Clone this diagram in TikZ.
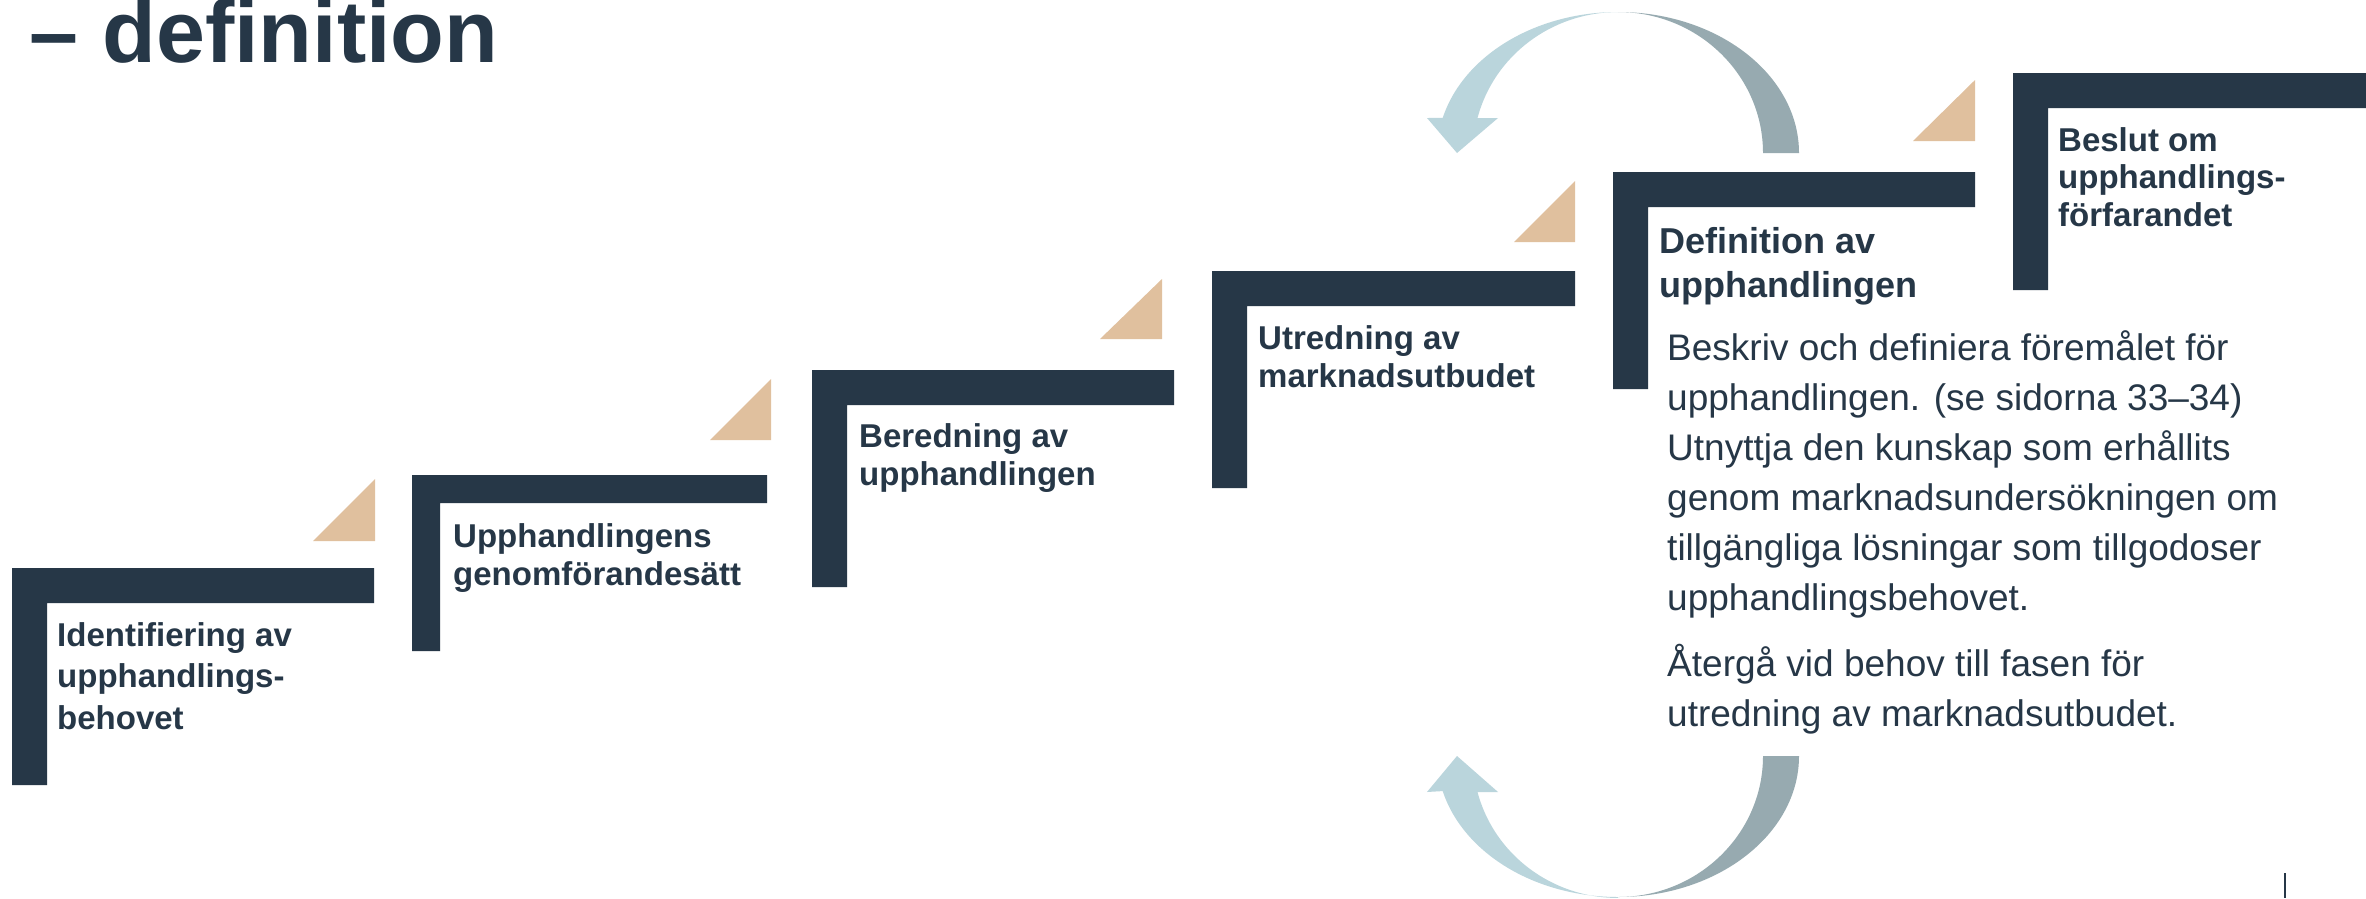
\documentclass[tikz,border=0pt]{standalone}
\usepackage{fontspec}
\setmainfont{Liberation Sans}
\definecolor{navy}{HTML}{263747}
\definecolor{wedgetan}{HTML}{E0C09E}
\definecolor{arrowlight}{HTML}{BAD5DC}
\definecolor{arrowdark}{HTML}{97AAB0}
\newcommand\stepshape[5]{%
  \fill[navy] (#1,#2) -- (#3,#2) -- (#3,#2+#5) -- (#1+#5,#2+#5) -- (#1+#5,#4) -- (#1,#4) -- cycle;}
\newcommand\wedgeshape[4]{%
  \fill[wedgetan] (#1,#4) -- (#3,#4) -- (#3,#2) -- cycle;}
\begin{document}
\begin{tikzpicture}[x=1pt,y=-1pt,
  lbl/.style={anchor=base west, inner sep=0pt, align=left, text=navy,
    font=\bfseries\fontsize{33}{38}\selectfont},
  body/.style={anchor=base west, inner sep=0pt, align=left, text=navy,
    font=\fontsize{37}{50}\selectfont},
  titletext/.style={anchor=base west, inner sep=0pt, text=navy,
    font=\bfseries\fontsize{88}{100}\selectfont}]
\useasboundingbox (0,0) rectangle (2366,898);
\clip (0,0) rectangle (2366,898);
\fill[white] (0,0) rectangle (2366,898);

% title
\node[titletext] (title) at (29,62) {– definition};

% steps
\stepshape{12}{568}{374}{785}{35}
\stepshape{412}{475}{767}{651}{28}
\stepshape{812}{370}{1174}{587}{35}
\stepshape{1212}{271}{1575}{488}{35}
\stepshape{1613}{172}{1975}{389}{35}
\stepshape{2013}{73}{2400}{290}{35}

% wedges
\wedgeshape{313}{479}{375}{541}
\wedgeshape{710}{379}{771}{440}
\wedgeshape{1100}{279}{1162}{339}
\wedgeshape{1514}{181}{1575}{242}
\wedgeshape{1913}{80}{1975}{141}

% labels (anchored at the baseline of their last line)
\node[lbl, font=\bfseries\fontsize{33}{41.5}\selectfont] (s1) at (57,729) {Identifiering av\\upphandlings-\\behovet};
\node[lbl, font=\bfseries\fontsize{33}{38.5}\selectfont] (s2) at (453,585.5) {Upphandlingens\\genomförandesätt};
\node[lbl] (s3) at (859,485) {Beredning av\\upphandlingen};
\node[lbl] (s4) at (1258,387) {Utredning av\\marknadsutbudet};
\node[lbl, font=\bfseries\fontsize{36}{44}\selectfont] (s5) at (1659,297) {Definition av\\upphandlingen};
\node[lbl, font=\bfseries\fontsize{33}{37.5}\selectfont] (s6) at (2058,226) {Beslut om\\upphandlings-\\förfarandet};

% body text
\node[body] (desc) at (1667,726) {Beskriv och definiera föremålet för\\upphandlingen. (se sidorna 33–34)\\Utnyttja den kunskap som erhållits\\genom marknadsundersökningen om\\tillgängliga lösningar som tillgodoser\\upphandlingsbehovet.\\[16pt]Återgå vid behov till fasen för\\utredning av marknadsutbudet.};

% top curved arrow
\fill[arrowdark] (1799,153) arc[start angle=0, end angle=-90, x radius=181, y radius=141]
  arc[start angle=-90, end angle=0, x radius=145, y radius=141] -- cycle;
\fill[arrowlight] (1618,12) arc[start angle=-90, end angle=-165.6, x radius=181, y radius=141]
  -- (1427,118) -- (1457,153) -- (1498,118) -- (1477.5,118)
  arc[start angle=-165.6, end angle=-90, x radius=145, y radius=141] -- cycle;

% bottom curved arrow
\fill[arrowdark] (1799,756) arc[start angle=0, end angle=90, x radius=181, y radius=141]
  arc[start angle=90, end angle=0, x radius=145, y radius=141] -- cycle;
\fill[arrowlight] (1618,897) arc[start angle=90, end angle=165.6, x radius=181, y radius=141]
  -- (1427,792) -- (1457,756) -- (1498,792) -- (1477.5,792)
  arc[start angle=165.6, end angle=90, x radius=145, y radius=141] -- cycle;

% page mark
\draw[navy, line width=1.3pt] (2285,873) -- (2285,898);
\end{tikzpicture}
\end{document}
